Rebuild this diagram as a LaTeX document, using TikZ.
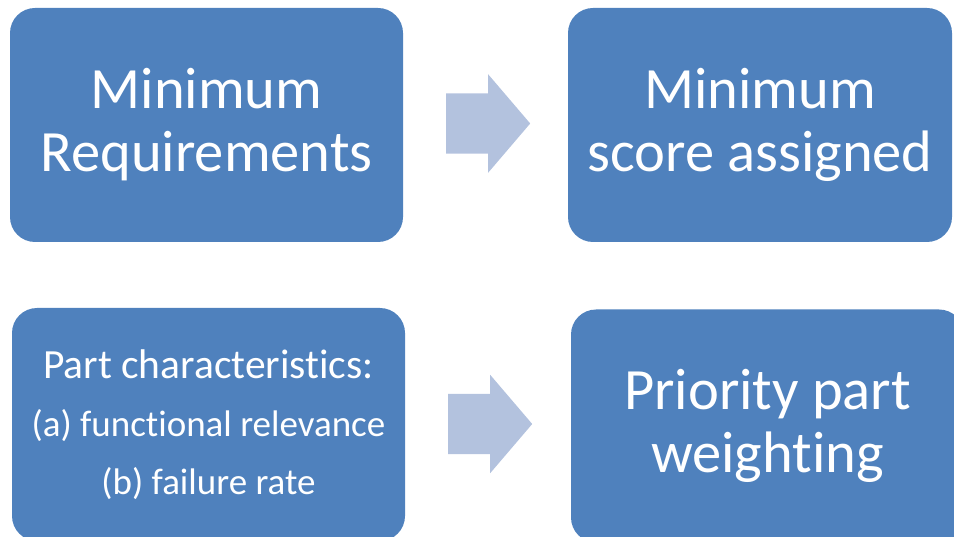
\documentclass[tikz,border=0pt]{standalone}
\usepackage{fontspec}
\setmainfont{Carlito}[Ligatures={NoCommon}]
\usepackage{tikz}
\usetikzlibrary{shapes,shapes.arrows,positioning}

\definecolor{boxblue}{RGB}{79,129,189}
\definecolor{arrowblue}{RGB}{179,194,222}

\begin{document}
\begin{tikzpicture}[x=1pt, y=-1pt]
          \tikzstyle{bnode} = [fill=boxblue, rounded corners=25pt, text=white, align=center, minimum width=393pt, minimum height=234pt, inner sep=0pt]
          \tikzstyle{anode} = [fill=arrowblue, single arrow, anchor=tail, single arrow tip angle=99, single arrow head extend=19pt, inner xsep=0pt, inner ysep=30pt, minimum height=84pt]
          \tikzstyle{bigtext} = [font=\fontsize{58.5}{63}\selectfont]
          \tikzstyle{smalltext} = [font=\fontsize{37}{58}\selectfont]

          \useasboundingbox (0,0) rectangle (954,537);
          \clip (0,0) rectangle (954,537);

          % top row
          \node[bnode, bigtext] (minreq) at (206.5, 125) {Minimum\\Requirements};
          \node[bnode, bigtext, minimum width=384pt] (minscore) at (760, 125) {Minimum\\score assigned};
          \node[anode] (arr1) at (446, 123.5) {};

          % bottom row
          \node[bnode, smalltext, minimum height=233pt] (partchar) at (208.5, 424.5) {{\fontsize{41.5}{58}\selectfont Part characteristics:}\\(a) functional relevance\\(b) failure rate};
          \node[bnode, bigtext, minimum height=233pt] (priority) at (767.5, 426) {Priority part\\weighting};
          \node[anode] (arr2) at (448, 424) {};
        \end{tikzpicture}
\end{document}
